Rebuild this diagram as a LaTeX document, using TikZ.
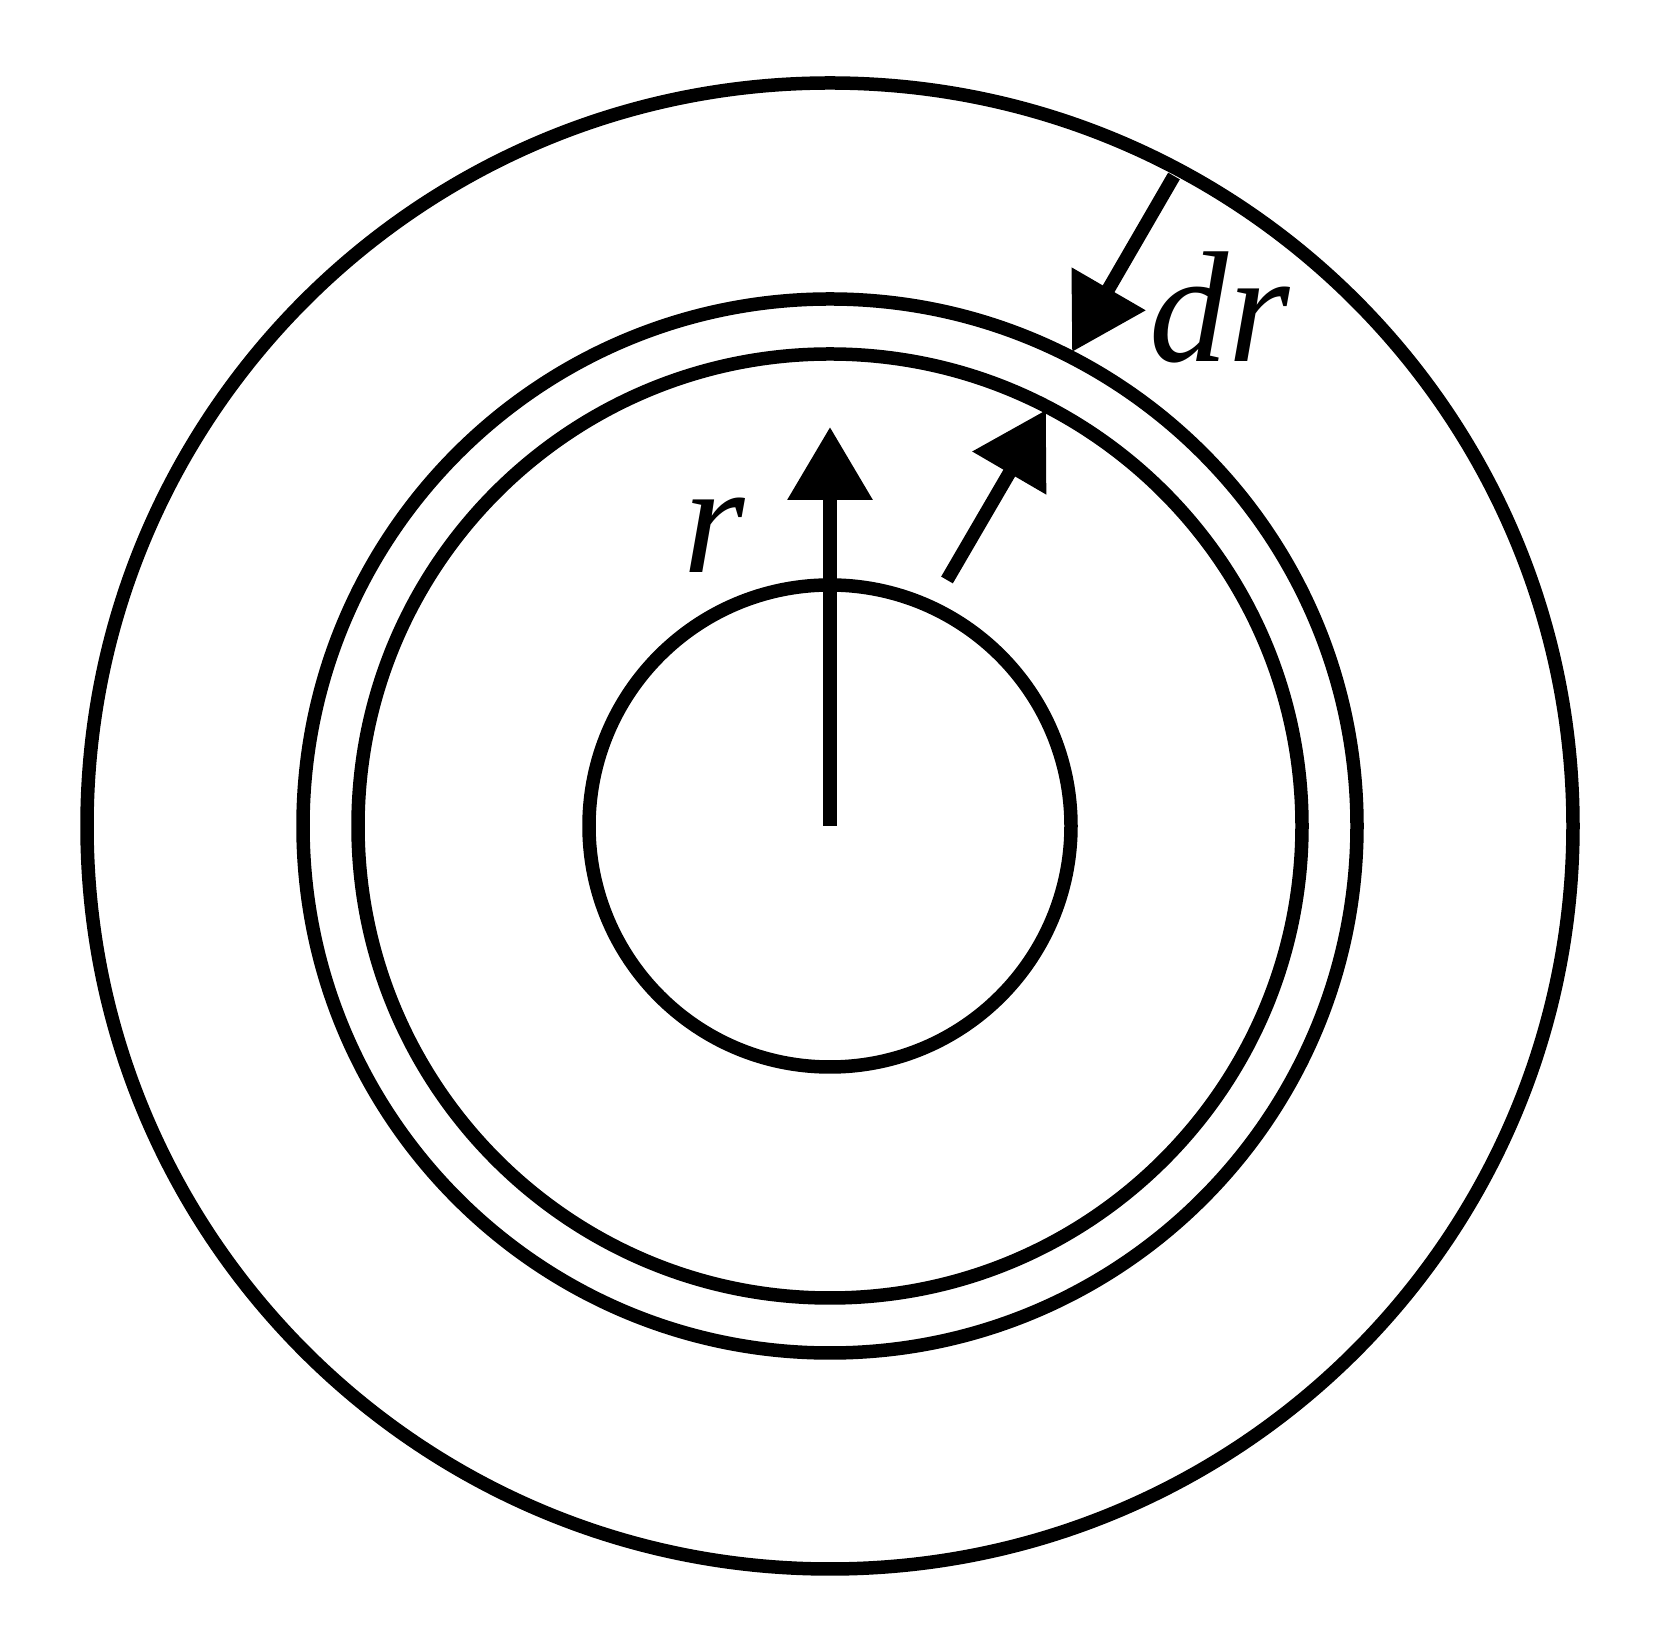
\documentclass[tikz,border=0pt]{standalone}
\usepackage{fontspec}
\setmainfont{Liberation Serif}
\usetikzlibrary{arrows.meta}
\tikzset{
  ring/.style={line width=0.135cm, draw=black},
  radarrow/.style={line width=0.135cm, line cap=butt, -{Triangle[length=0.73cm,width=0.82cm]}},
  lbl/.style={inner sep=0pt, anchor=base, font=\fontsize{45}{50}\selectfont\itshape}
}
\begin{document}
\begin{tikzpicture}
\useasboundingbox (0,0) rectangle (16.56,16.48);
\coordinate (C) at (8.30,8.22);
% circles
\draw[ring] (C) circle (7.43);
\draw[ring] (C) circle (5.27);
\draw[ring] (C) circle (4.72);
\draw[ring] (C) circle (2.41);
% radius arrow
\coordinate (rtip) at (8.30,12.21);
\draw[radarrow] (C) -- (rtip);
% dr arrows
\coordinate (drA) at (11.74,14.72);
\coordinate (drB) at (10.72,12.96);
\draw[radarrow] (drA) -- (drB);
\coordinate (drC) at (9.47,10.68);
\coordinate (drD) at (10.46,12.38);
\draw[radarrow] (drC) -- (drD);
% labels
\node[lbl] (rlabel) at (7.14,10.75) {r};
\node[lbl] (drlabel) at (12.20,12.86) {dr};
\end{tikzpicture}
\end{document}
